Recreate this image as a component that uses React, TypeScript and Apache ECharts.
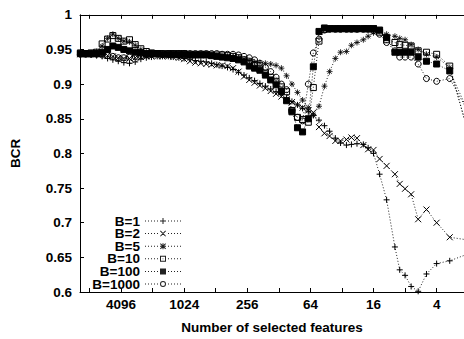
import React, { useEffect, useRef } from "react";
import * as echarts from "echarts";

// Number of selected features (x, log scale, reversed)
const features = [
  10000, 8900, 7900, 7000, 6200, 5500, 4900, 4350, 3850, 3400,
  3000, 2650, 2350, 2100, 1850, 1650, 1450, 1300, 1150, 1024,
  900, 800, 710, 630, 560, 500, 445, 395, 350, 310,
  275, 245, 218, 194, 172, 153, 136, 121, 108, 96,
  85, 76, 67, 60, 53, 47, 42, 37, 33, 29,
  26, 23, 20, 18, 16, 14, 12, 10, 9, 8,
  7, 6, 5, 4, 3, 2,
];

const bcrB1 = [
  0.942, 0.943, 0.942, 0.941, 0.940, 0.937, 0.935, 0.933, 0.931, 0.930,
  0.932, 0.936, 0.938, 0.939, 0.940, 0.940, 0.940, 0.939, 0.938, 0.937,
  0.936, 0.934, 0.933, 0.932, 0.930, 0.928, 0.926, 0.924, 0.921, 0.917,
  0.913, 0.909, 0.905, 0.901, 0.897, 0.893, 0.889, 0.885, 0.880, 0.875,
  0.870, 0.865, 0.860, 0.855, 0.848, 0.840, 0.832, 0.822, 0.815, 0.812,
  0.813, 0.814, 0.813, 0.808, 0.800, 0.770, 0.733, 0.665, 0.632, 0.624,
  0.608, 0.601, 0.626, 0.641, 0.645, 0.655,
];

const bcrB2 = [
  0.943, 0.943, 0.943, 0.943, 0.943, 0.941, 0.940, 0.938, 0.937, 0.937,
  0.938, 0.939, 0.940, 0.940, 0.940, 0.940, 0.940, 0.939, 0.938, 0.936,
  0.933, 0.931, 0.930, 0.929, 0.928, 0.927, 0.927, 0.926, 0.923, 0.918,
  0.911, 0.906, 0.902, 0.898, 0.894, 0.890, 0.886, 0.882, 0.878, 0.874,
  0.870, 0.866, 0.862, 0.859, 0.838, 0.829, 0.825, 0.818, 0.818, 0.820,
  0.823, 0.822, 0.812, 0.806, 0.805, 0.792, 0.782, 0.770, 0.756, 0.749,
  0.741, 0.705, 0.719, 0.700, 0.679, 0.675,
];

const bcrB5 = [
  0.944, 0.944, 0.945, 0.947, 0.955, 0.966, 0.972, 0.966, 0.962, 0.961,
  0.956, 0.950, 0.946, 0.944, 0.944, 0.943, 0.943, 0.943, 0.943, 0.943,
  0.942, 0.942, 0.942, 0.941, 0.941, 0.941, 0.940, 0.940, 0.939, 0.938,
  0.936, 0.934, 0.932, 0.931, 0.930, 0.929, 0.927, 0.923, 0.912, 0.900,
  0.888, 0.877, 0.866, 0.855, 0.868, 0.897, 0.918, 0.937, 0.946, 0.947,
  0.956, 0.960, 0.964, 0.969, 0.974, 0.976, 0.972, 0.969, 0.966, 0.964,
  0.957, 0.950, 0.943, 0.939, 0.924, 0.830,
];

const bcrB10 = [
  0.945, 0.944, 0.945, 0.946, 0.958, 0.965, 0.970, 0.966, 0.962, 0.964,
  0.957, 0.951, 0.947, 0.945, 0.944, 0.944, 0.944, 0.944, 0.944, 0.944,
  0.943, 0.943, 0.943, 0.943, 0.942, 0.942, 0.942, 0.941, 0.940, 0.938,
  0.935, 0.932, 0.928, 0.922, 0.916, 0.910, 0.904, 0.896, 0.889, 0.862,
  0.852, 0.849, 0.845, 0.895, 0.962, 0.979, 0.980, 0.980, 0.980, 0.980,
  0.980, 0.980, 0.980, 0.980, 0.980, 0.975, 0.964, 0.960, 0.957, 0.956,
  0.955, 0.948, 0.946, 0.943, 0.926, 0.830,
];

const bcrB100 = [
  0.944, 0.944, 0.944, 0.944, 0.946, 0.950, 0.955, 0.953, 0.950, 0.948,
  0.946, 0.945, 0.944, 0.944, 0.944, 0.943, 0.943, 0.943, 0.943, 0.943,
  0.942, 0.942, 0.942, 0.942, 0.941, 0.940, 0.939, 0.938, 0.937, 0.935,
  0.932, 0.926, 0.923, 0.920, 0.913, 0.906, 0.899, 0.890, 0.876, 0.860,
  0.837, 0.831, 0.850, 0.925, 0.976, 0.981, 0.980, 0.980, 0.980, 0.980,
  0.980, 0.980, 0.980, 0.980, 0.980, 0.978, 0.967, 0.946, 0.946, 0.946,
  0.946, 0.939, 0.933, 0.929, 0.919, 0.860,
];

const bcrB1000 = [
  0.943, 0.943, 0.943, 0.943, 0.942, 0.941, 0.940, 0.938, 0.938, 0.939,
  0.940, 0.941, 0.943, 0.944, 0.944, 0.944, 0.944, 0.944, 0.944, 0.944,
  0.944, 0.944, 0.944, 0.944, 0.944, 0.944, 0.943, 0.943, 0.943, 0.942,
  0.940, 0.938, 0.935, 0.930, 0.924, 0.918, 0.910, 0.900, 0.892, 0.862,
  0.852, 0.847, 0.900, 0.945, 0.965, 0.978, 0.979, 0.979, 0.979, 0.979,
  0.979, 0.979, 0.979, 0.979, 0.977, 0.972, 0.960, 0.948, 0.939, 0.939,
  0.939, 0.929, 0.908, 0.904, 0.908, 0.860,
];

const seriesNames = ["B=1", "B=2", "B=5", "B=10", "B=100", "B=1000"];
const seriesValues = [bcrB1, bcrB2, bcrB5, bcrB10, bcrB100, bcrB1000];

// x ticks at every power of two, labels at powers of four (log2 exponents)
const tickExponents = [2, 3, 4, 5, 6, 7, 8, 9, 10, 11, 12, 13];
const labelExponents = [2, 4, 6, 8, 10, 12];
const yTicks = [0.6, 0.65, 0.7, 0.75, 0.8, 0.85, 0.9, 0.95, 1];

const FONT = "Liberation Sans, Arial, Helvetica, sans-serif";

const symbols = [
  "path://M5,0L5,10M0,5L10,5",
  "path://M0,0L10,10M10,0L0,10",
  "path://M5,0L5,10M0,5L10,5M1.5,1.5L8.5,8.5M8.5,1.5L1.5,8.5",
  "rect",
  "rect",
  "circle",
];
const fills = ["#000", "#000", "#000", "rgba(255,255,255,0)", "#000", "rgba(255,255,255,0)"];
const borderWidths = [1, 1, 0.8, 1, 1, 1];

// legend icons: dotted sample line (36 x 6 box) with the marker in its middle
const DOTS =
  "M0,2.5h1v1h-1z M3,2.5h1v1h-1z M6,2.5h1v1h-1z M9,2.5h1v1h-1z M12,2.5h1v1h-1z " +
  "M23,2.5h1v1h-1z M26,2.5h1v1h-1z M29,2.5h1v1h-1z M32,2.5h1v1h-1z M35,2.5h1v1h-1z ";
const PLUS = "M17.5,0h1v6h-1z M15,2.5h6v1h-6z ";
const CROSS = "M15,0.7L15.7,0L21,5.3L20.3,6Z M20.3,0L21,0.7L15.7,6L15,5.3Z ";
const legendMarks = [
  PLUS,
  CROSS,
  PLUS + CROSS,
  "M15,0h6v6h-6z M16,1v4h4v-4z M17.6,2.6v0.8h0.8v-0.8z",
  "M15,0h6v6h-6z",
  "M15,3A3,3 0 1,1 21,3A3,3 0 1,1 15,3Z M16,3A2,2 0 1,0 20,3A2,2 0 1,0 16,3Z",
];

export default function App() {
  const ref = useRef<HTMLDivElement>(null);
  useEffect(() => {
    if (!ref.current) return;
    const chart = echarts.init(ref.current, undefined, { renderer: "svg" });
    const xMin = 1.133;
    const xMax = 13.3;
    const axisText = { color: "#000", fontFamily: FONT, fontWeight: "bold" as const, fontSize: 13.5 };
    const dotted = { color: "#222", width: 1, type: [1, 2] };
    const series = seriesNames.map((name, si) => ({
      name,
      type: "line",
      xAxisIndex: 0,
      data: features.map((n, i) => [Math.log2(n), seriesValues[si][i]]),
      symbol: symbols[si],
      symbolSize: 6,
      showSymbol: true,
      clip: true,
      lineStyle: dotted,
      itemStyle: { color: fills[si], borderColor: "#000", borderWidth: borderWidths[si] },
      emphasis: { disabled: true },
    }));
    chart.setOption({
      animation: false,
      backgroundColor: "#fff",
      grid: { left: 80, right: 0, top: 14.8, bottom: 40, containLabel: false },
      legend: {
        orient: "vertical",
        align: "right",
        right: 283,
        top: 214,
        padding: 0,
        itemGap: -1.4,
        itemWidth: 36,
        itemHeight: 6,
        itemStyle: { color: "#222", borderWidth: 0 },
        data: seriesNames.map((name, i) => ({
          name,
          icon: "path://" + DOTS + legendMarks[i],
          itemStyle: { color: "#222", borderWidth: 0 },
        })),
        textStyle: axisText,
      },
      xAxis: [
        {
          type: "value",
          position: "bottom",
          inverse: true,
          min: xMin,
          max: xMax,
          splitLine: { show: false },
          axisLine: { show: true, lineStyle: { color: "#000", width: 1 } },
          axisTick: { show: true, inside: true, length: 4, customValues: tickExponents, lineStyle: { color: "#000" } },
          axisLabel: {
            ...axisText,
            margin: 5,
            customValues: labelExponents,
            formatter: (v: number) => String(Math.round(Math.pow(2, v))),
          },
          name: "Number of selected features",
          nameLocation: "middle",
          nameGap: 28,
          nameTextStyle: axisText,
        },
        {
          type: "value",
          position: "top",
          inverse: true,
          min: xMin,
          max: xMax,
          splitLine: { show: false },
          axisLine: { show: true, lineStyle: { color: "#000", width: 1 } },
          axisTick: { show: true, inside: true, length: 4, customValues: tickExponents, lineStyle: { color: "#000" } },
          axisLabel: { show: false },
        },
      ],
      yAxis: {
        type: "value",
        min: 0.6,
        max: 1,
        splitLine: { show: false },
        axisLine: { show: true, lineStyle: { color: "#000", width: 1 } },
        axisTick: { show: true, inside: true, length: 4, customValues: yTicks, lineStyle: { color: "#000" } },
        axisLabel: {
          ...axisText,
          margin: 8,
          customValues: yTicks,
          formatter: (v: number) => String(+v.toFixed(2)),
        },
        name: "BCR",
        nameLocation: "middle",
        nameGap: 58,
        nameTextStyle: axisText,
      },
      series,
    });
    return () => chart.dispose();
  }, []);
  return (
    <div
      ref={ref}
      style={{ position: "fixed", left: 0, top: 0, width: 464, height: 339 }}
    />
  );
}
